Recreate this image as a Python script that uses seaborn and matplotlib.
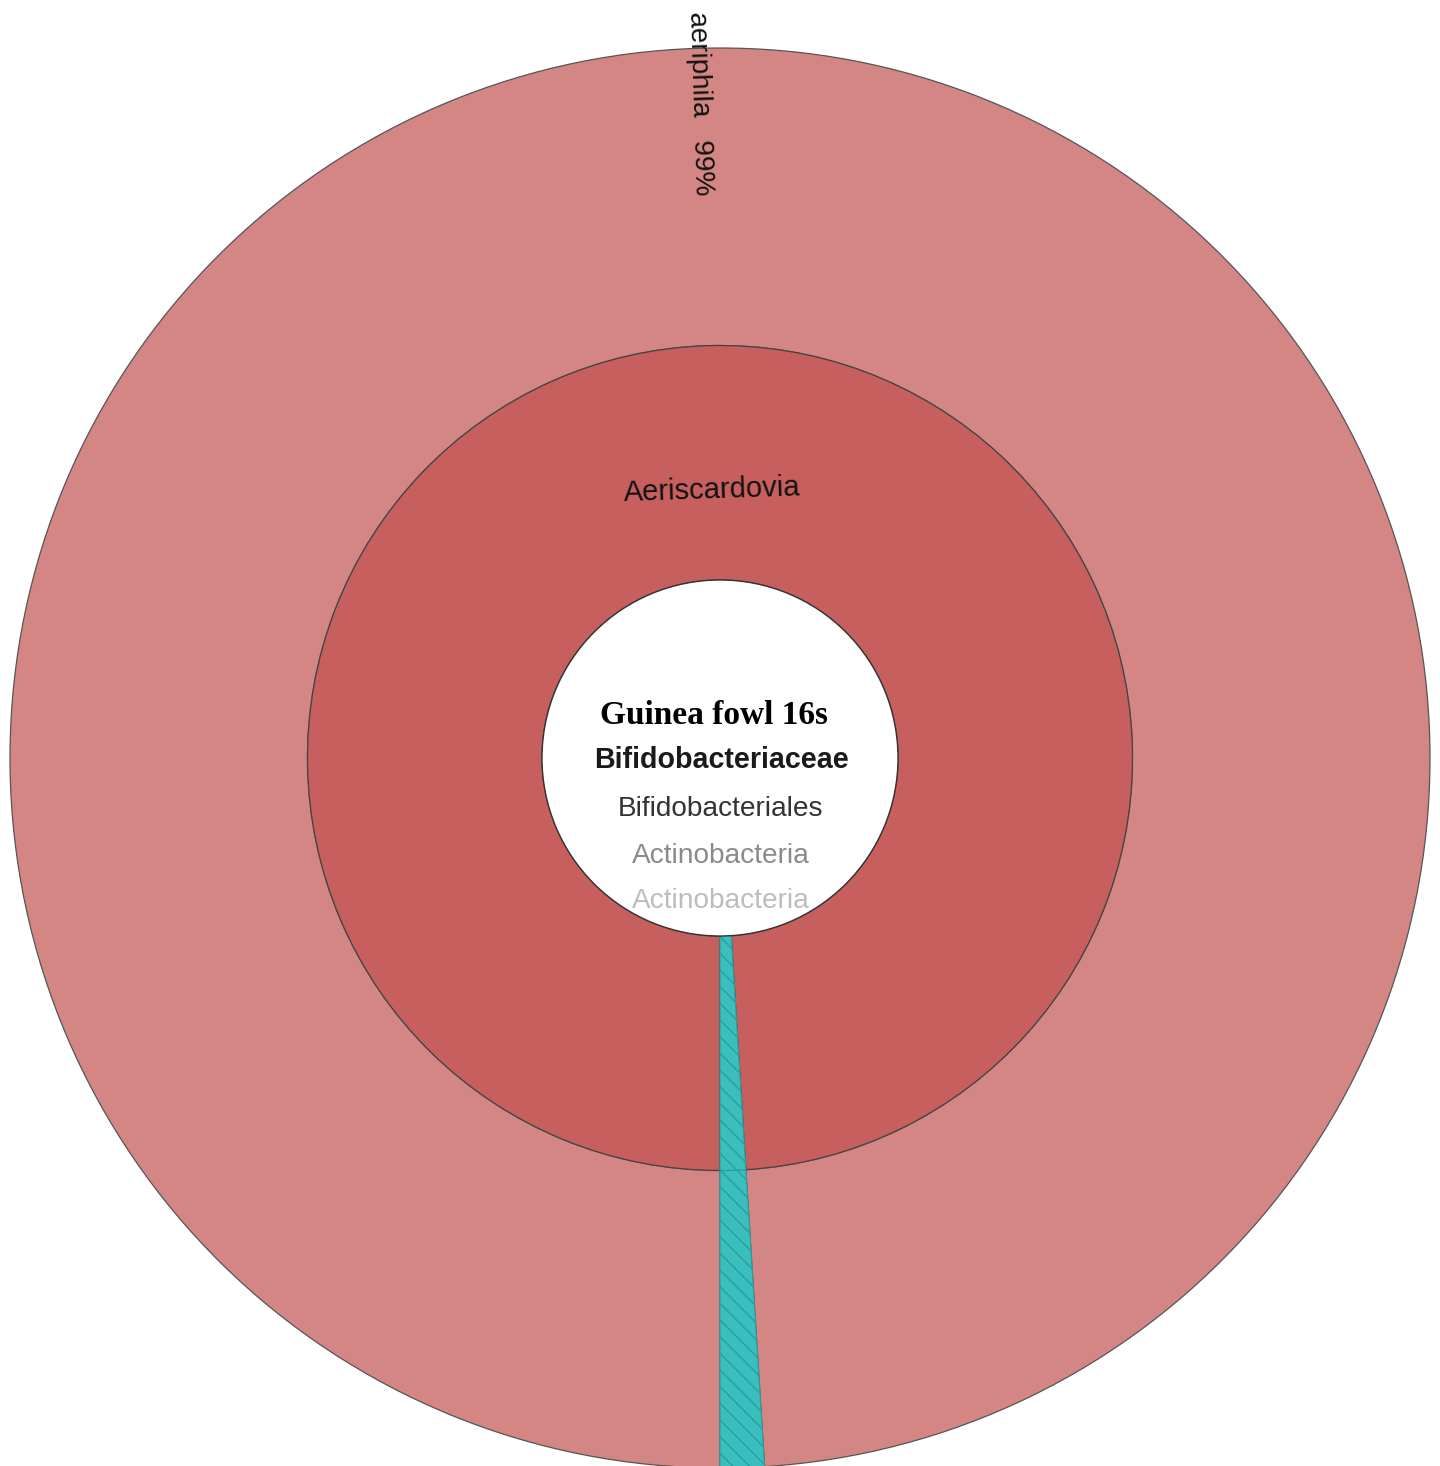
import matplotlib
matplotlib.use("Agg")
import matplotlib.pyplot as plt
import seaborn as sns
import numpy as np

# krona-style data
genus = ["Aeriscardovia", "other"]
species = ["aeriphila", "other"]
shares = [99, 1]
lineage = ["Bifidobacteriaceae", "Bifidobacteriales", "Actinobacteria", "Actinobacteria"]
lineage_colors = ["#1a1a1a", "#333333", "#8a8a8a", "#bdbdbd"]
title = "Guinea fowl 16s"

outer_col = "#d38684"
mid_col = "#c75f5e"
teal_col = "#3bbfbe"

sns.set_theme(style="white")
plt.rcParams['font.family'] = ['Liberation Sans', 'DejaVu Sans']
plt.rcParams['hatch.linewidth'] = 1.0

W, H = 1440, 1466
fig = plt.figure(figsize=(W / 100, H / 100), dpi=100)
ax = fig.add_axes([0, 0, 1, 1])

cx, cy = 720, H - 758
r_out, r_mid, r_in = 710, 412.5, 178
start = 270 - 360 * shares[0] / sum(shares)

# outer ring (species)
w1, _ = ax.pie(shares, radius=r_out, center=(cx, cy), startangle=start,
               colors=[outer_col, teal_col], frame=True,
               wedgeprops=dict(width=r_out - r_mid, edgecolor="#555555", linewidth=0.9))
# middle ring (genus)
w2, _ = ax.pie(shares, radius=r_mid, center=(cx, cy), startangle=start,
               colors=[mid_col, teal_col], frame=True,
               wedgeprops=dict(width=r_mid - r_in, edgecolor="#444444", linewidth=0.9))
for w in (w1[1], w2[1]):
    w.set_hatch("\\\\")
    w.set_edgecolor("#2b9d9d")
    w.set_linewidth(0.8)

# center white disc
ax.pie([1], radius=r_in, center=(cx, cy), colors=["white"], frame=True,
       wedgeprops=dict(edgecolor="#333333", linewidth=1.0))

# labels along the mid angle of the big slice
mid_ang = start + 360 * shares[0] / sum(shares) / 2
rad = np.deg2rad(mid_ang)
rg = 268
ax.text(cx + rg * np.cos(rad), cy + rg * np.sin(rad), genus[0],
        rotation=mid_ang - 90, ha="center", va="center", fontsize=21, color="#111111")
rs = 655
ax.text(cx + rs * np.cos(rad), cy + rs * np.sin(rad),
        f"{species[0]}   {shares[0]}%", rotation=mid_ang - 180,
        ha="center", va="center", fontsize=20, color="#111111",
        rotation_mode="anchor")

# center text
ax.text(714, H - 716, title, ha="center", va="center", fontsize=24,
        fontweight="bold", family=["Liberation Serif", "DejaVu Serif"], color="black")
ys = [760, 809, 856, 901]
sizes = [20.6, 20.2, 20.2, 20.2]
for i, name in enumerate(lineage):
    ax.text(721, H - ys[i], name, ha="center", va="center", fontsize=sizes[i],
            fontweight="bold" if i == 0 else "normal", color=lineage_colors[i])

ax.set_xlim(0, W)
ax.set_ylim(0, H)
ax.set_aspect("equal")
ax.axis("off")
fig.savefig("out.png", dpi=100, facecolor="white")
